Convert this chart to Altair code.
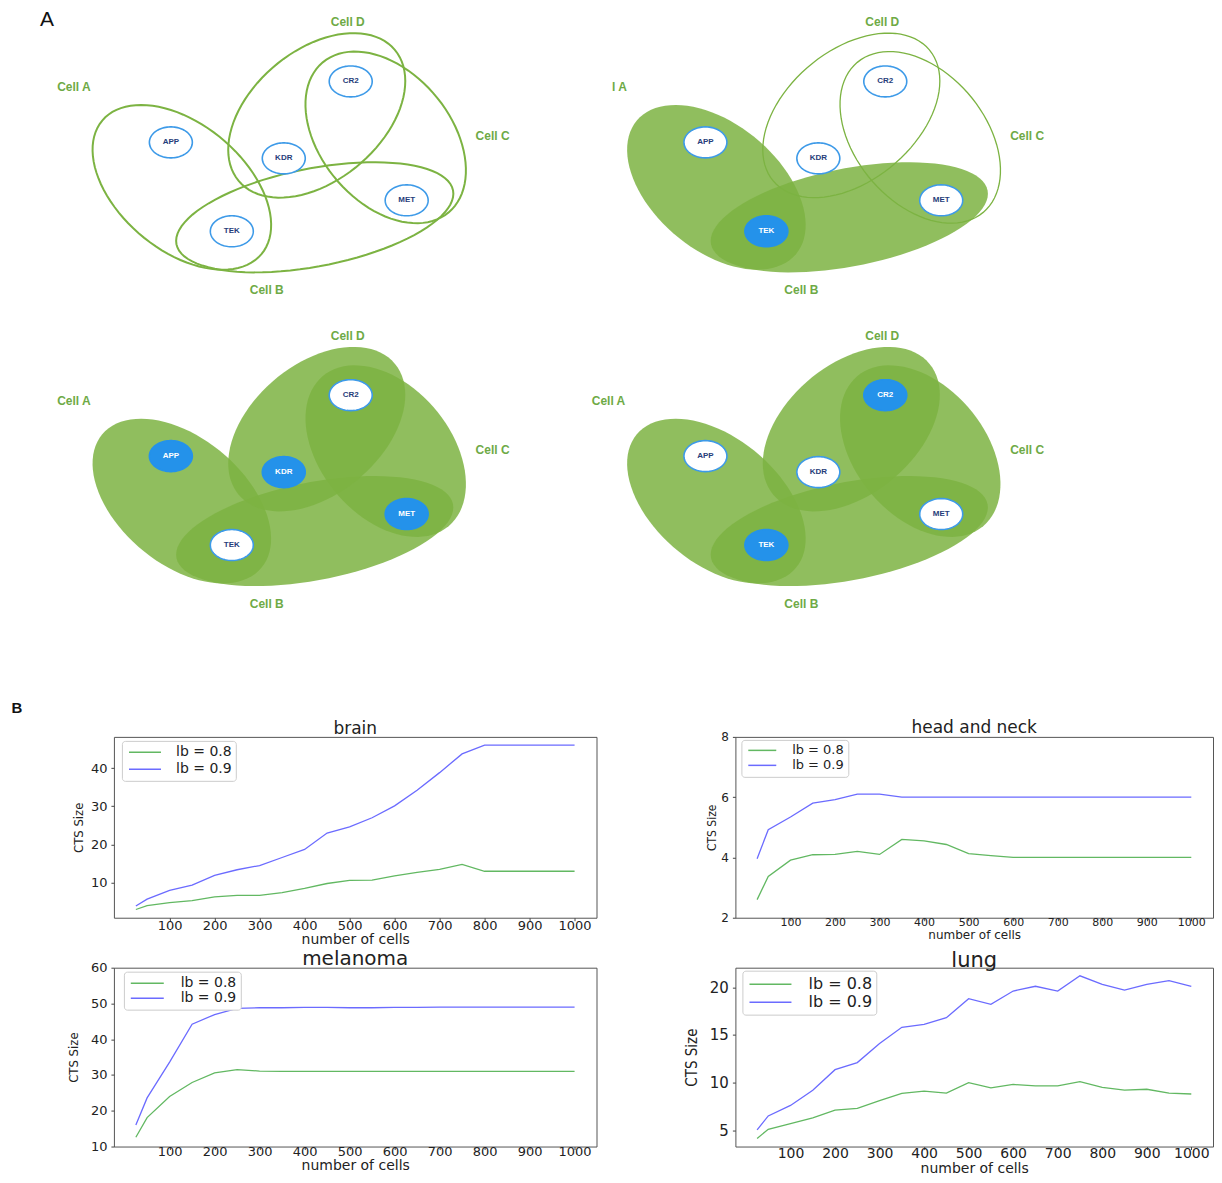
import numpy as np
import pandas as pd
import altair as alt

# ======================= Panel B data =======================
cells = [25, 50, 100, 150, 200, 250, 300, 350, 400, 450, 500,
         550, 600, 650, 700, 750, 800, 850, 900, 950, 1000]
series_names = ["lb = 0.8", "lb = 0.9"]
x_ticks = [100, 200, 300, 400, 500, 600, 700, 800, 900, 1000]

brain_lb08 = [3.0, 4.0, 4.8, 5.3, 6.3, 6.7, 6.7, 7.4, 8.5, 9.8, 10.6,
              10.7, 11.8, 12.7, 13.5, 14.8, 13.0, 13.0, 13.0, 13.0, 13.0]
brain_lb09 = [3.9, 5.7, 8.0, 9.4, 11.9, 13.4, 14.5, 16.6, 18.7, 23.0, 24.6,
              27.0, 30.1, 34.2, 38.8, 43.7, 46.0, 46.0, 46.0, 46.0, 46.0]
brain_yticks = [10, 20, 30, 40]

hn_lb08 = [2.6, 3.37, 3.91, 4.09, 4.1, 4.2, 4.1, 4.6, 4.55, 4.43, 4.13,
           4.06, 4.0, 4.0, 4.0, 4.0, 4.0, 4.0, 4.0, 4.0, 4.0]
hn_lb09 = [3.96, 4.92, 5.34, 5.8, 5.92, 6.1, 6.1, 6.0, 6.0, 6.0, 6.0,
           6.0, 6.0, 6.0, 6.0, 6.0, 6.0, 6.0, 6.0, 6.0, 6.0]
hn_yticks = [2, 4, 6, 8]

mel_lb08 = [12.6, 18.1, 24.0, 27.9, 30.6, 31.5, 31.1, 31.0, 31.0, 31.0, 31.0,
            31.0, 31.0, 31.0, 31.0, 31.0, 31.0, 31.0, 31.0, 31.0, 31.0]
mel_lb09 = [16.0, 23.6, 33.6, 44.2, 46.9, 48.6, 48.8, 48.8, 48.9, 48.9, 48.8,
            48.8, 48.9, 48.9, 49.0, 49.0, 49.0, 49.0, 49.0, 49.0, 49.0]
mel_yticks = [10, 20, 30, 40, 50, 60]

lung_lb08 = [4.14, 5.1, 5.7, 6.3, 7.1, 7.3, 8.1, 8.86, 9.1, 8.9, 10.0,
             9.45, 9.8, 9.65, 9.65, 10.1, 9.5, 9.2, 9.3, 8.9, 8.8]
lung_lb09 = [5.03, 6.5, 7.6, 9.2, 11.35, 12.1, 14.1, 15.8, 16.1, 16.8, 18.8,
             18.2, 19.6, 20.1, 19.6, 21.2, 20.3, 19.7, 20.3, 20.7, 20.1]
lung_yticks = [5, 10, 15, 20]

# ======================= Panel A data =======================
set_names = ["Cell A", "Cell B", "Cell C", "Cell D"]
gene_names = ["APP", "KDR", "CR2", "MET", "TEK"]
panel_filled_sets = [[], ["Cell A", "Cell B"], set_names, set_names]
panel_marked_genes = [[], ["TEK"], ["APP", "KDR", "MET"], ["CR2", "TEK"]]
panel_set_labels = [set_names, ["l A", "Cell B", "Cell C", "Cell D"], set_names, set_names]
panel_letters = ["A", "B"]

# diagram geometry, in diagram units (one diagram repeated in 4 panels)
GEOM = {
    "set_center": {"Cell A": (181, 186), "Cell B": (314, 216), "Cell C": (385, 136), "Cell D": (316, 114)},
    "set_axes": {"Cell A": (104, 63), "Cell B": (141, 49), "Cell C": (98, 65), "Cell D": (102, 65)},
    "set_angle": {"Cell A": 40, "Cell B": -11, "Cell C": 50, "Cell D": -40},
    "set_label": {"Cell A": (73, 86), "Cell B": (266, 289), "Cell C": (492, 135), "Cell D": (347, 21)},
    "cropped_label": (619, 86),
    "gene_center": {"APP": (170, 141), "KDR": (283, 157), "CR2": (350, 80), "MET": (406, 199), "TEK": (231, 230)},
    "gene_axes": (21.5, 15.5),
    "panel_offset": [(0, 0), (535, 0), (0, 314), (535, 314)],
    "letter_pos": [(46, 8), (16, 707)],
    "extent_x": (113, 1209),
    "extent_y": (8, 716),
}

SET_GREEN = "#7cb342"
LABEL_GREEN = "#6eaa46"
GENE_BLUE = "#2492ea"
GENE_STROKE = "#3d9ae8"
GENE_TEXT = "#263d7a"
AFONT = "Liberation Sans"


def ellipse_path(ratio, n=90):
    """Unit ellipse outline (x radius 1, y radius = ratio) as an SVG path."""
    t = np.linspace(0.0, 2 * np.pi, n, endpoint=False)
    pts = ["%.4f,%.4f" % (np.cos(v), ratio * np.sin(v)) for v in t]
    return "M" + "L".join(pts) + "Z"


set_rows, gene_rows, set_txt, gene_txt = [], [], [], []
for p in range(4):
    dx, dy = GEOM["panel_offset"][p]
    for s, lab in zip(set_names, panel_set_labels[p]):
        cx, cy = GEOM["set_center"][s]
        a, b = GEOM["set_axes"][s]
        set_rows.append({"x": cx + dx, "y": cy + dy, "shape": ellipse_path(b / a),
                         "size": (2 * a) ** 2, "ang": GEOM["set_angle"][s] % 360,
                         "filled": s in panel_filled_sets[p], "sw": 2.0 if p == 0 else 1.3})
        if lab == s:
            lx, ly = GEOM["set_label"][s]
            lx += dx
        else:
            lx, ly = GEOM["cropped_label"]
        set_txt.append({"x": lx, "y": ly + dy, "label": lab})
    for g in gene_names:
        gx, gy = GEOM["gene_center"][g]
        rx, ry = GEOM["gene_axes"]
        marked = g in panel_marked_genes[p]
        gene_rows.append({"x": gx + dx, "y": gy + dy, "shape": ellipse_path(ry / rx),
                          "size": (2 * rx) ** 2,
                          "fill": GENE_BLUE if marked else "white",
                          "stroke": GENE_BLUE if marked else GENE_STROKE})
        gene_txt.append({"x": gx + dx, "y": gy + dy, "label": g,
                         "tc": "white" if marked else GENE_TEXT})

set_df = pd.DataFrame(set_rows)
gene_df = pd.DataFrame(gene_rows)
set_txt_df = pd.DataFrame(set_txt)
gene_txt_df = pd.DataFrame(gene_txt)
letters_df = pd.DataFrame({"label": panel_letters,
                           "x": [q[0] for q in GEOM["letter_pos"]],
                           "y": [q[1] for q in GEOM["letter_pos"]]})

ex0, ex1 = GEOM["extent_x"]
ey0, ey1 = GEOM["extent_y"]
XA = alt.X("x:Q", scale=alt.Scale(domain=[ex0, ex1], nice=False, zero=False), axis=None)
YA = alt.Y("y:Q", scale=alt.Scale(domain=[ey0, ey1], nice=False, zero=False, reverse=True), axis=None)

fills = alt.Chart(set_df).transform_filter("datum.filled").mark_point(
    filled=True, color=SET_GREEN, opacity=1, fillOpacity=0.85, strokeWidth=0).encode(
    x=XA, y=YA, shape=alt.Shape("shape:N", scale=None), size=alt.Size("size:Q", scale=None),
    angle=alt.Angle("ang:Q", scale=None))
outlines = alt.Chart(set_df).transform_filter("!datum.filled").mark_point(
    filled=False, color=SET_GREEN, opacity=1).encode(
    x=XA, y=YA, shape=alt.Shape("shape:N", scale=None), size=alt.Size("size:Q", scale=None),
    angle=alt.Angle("ang:Q", scale=None), strokeWidth=alt.StrokeWidth("sw:Q", scale=None))
genes = alt.Chart(gene_df).mark_point(filled=True, opacity=1, strokeWidth=1.6).encode(
    x=XA, y=YA, shape=alt.Shape("shape:N", scale=None), size=alt.Size("size:Q", scale=None),
    fill=alt.Fill("fill:N", scale=None), stroke=alt.Stroke("stroke:N", scale=None))
gene_labels = alt.Chart(gene_txt_df).mark_text(font=AFONT, fontSize=8, fontWeight="bold").encode(
    x=XA, y=YA, text="label:N", color=alt.Color("tc:N", scale=None))
set_labels = alt.Chart(set_txt_df).mark_text(
    font=AFONT, fontSize=12, fontWeight="bold", color=LABEL_GREEN).encode(
    x=XA, y=YA, text="label:N")
letter_A = alt.Chart(letters_df.iloc[[0]]).mark_text(
    font=AFONT, fontSize=21, color="#111", baseline="top").encode(x=XA, y=YA, text="label:N")
letter_B = alt.Chart(letters_df.iloc[[1]]).mark_text(
    font=AFONT, fontSize=15, fontWeight="bold", color="#111").encode(x=XA, y=YA, text="label:N")

panel_a = alt.layer(fills, outlines, genes, gene_labels, set_labels, letter_A, letter_B).properties(
    width=ex1 - ex0, height=ey1 - ey0, view=alt.ViewBackground(stroke="transparent"))

# ======================= Panel B charts =======================
GREEN = "#62b862"
BLUE = "#6b6bff"
FONT = "DejaVu Sans"
NARROW = "DejaVu Sans Condensed, Liberation Sans Narrow, DejaVu Sans"
x_domain = [-23.75, 1048.75]
LINE_SYMBOL = "M-2.5,0L2.5,0"


def line_panel(name, lb08, lb09, ydom, yticks, c):
    n = len(cells)
    df = pd.DataFrame({"cells": cells + cells,
                       "size": lb08 + lb09,
                       "series": [series_names[0]] * n + [series_names[1]] * n})
    r = c["half"] / 2.5
    sym_off = c["half"] - r + 2
    lab_off = 2 + 2 * c["half"] + c["gap"] - 2 * r - sym_off
    return alt.Chart(df).mark_line(strokeWidth=1.3).encode(
        x=alt.X("cells:Q", scale=alt.Scale(domain=x_domain, nice=False, zero=False),
                axis=alt.Axis(values=x_ticks, format="d", title="number of cells", grid=False,
                              domain=False, tickSize=3, tickColor="#444", labelFont=FONT,
                              labelFontSize=c["xfs"], labelColor="#222", labelBaseline="middle",
                              labelPadding=c["xpad"], labelFlush=False, labelOverlap=False,
                              titleFont=FONT, titleFontSize=c["xtfs"], titleFontWeight="normal",
                              titleColor="#222", titleBaseline="middle", titleY=c["xty"])),
        y=alt.Y("size:Q", scale=alt.Scale(domain=ydom, nice=False, zero=False),
                axis=alt.Axis(values=yticks, title="CTS Size", grid=False, domain=False,
                              tickSize=3, tickColor="#444", labelFont=FONT, labelFontSize=c["yfs"],
                              labelColor="#222", labelPadding=4, labelOverlap=False,
                              titleFont=NARROW, titleFontSize=c["ytfs"], titleFontWeight="normal",
                              titleColor="#222", titleX=c["ytx"], titleY=c["h"] / 2,
                              minExtent=c["ext"], maxExtent=c["ext"])),
        color=alt.Color("series:N", scale=alt.Scale(domain=series_names, range=[GREEN, BLUE]),
                        legend=alt.Legend(title=None, orient="none", legendX=c["lgx"], legendY=c["lgy"],
                                          symbolType=LINE_SYMBOL, symbolSize=(2 * r) ** 2,
                                          symbolStrokeWidth=1.5, symbolOffset=sym_off,
                                          labelFont=FONT, labelFontSize=c["lfs"], labelColor="#222",
                                          labelOffset=lab_off, padding=c["lpad"],
                                          rowPadding=c["rowpad"],
                                          strokeColor="#cccccc", fillColor="white", cornerRadius=3)),
    ).properties(
        width=c["w"], height=c["h"],
        title=alt.TitleParams(name, font=FONT, fontSize=c["tfs"], fontWeight="normal", color="#222",
                              offset=c["toff"], frame="group", anchor="middle"),
        view=alt.ViewBackground(stroke="#555", strokeWidth=1),
    )


brain = line_panel("brain", brain_lb08, brain_lb09, [0.85, 48.15], brain_yticks,
                   dict(w=483, h=181, tfs=17, toff=-1, xfs=13, xpad=5, xtfs=14, xty=22,
                        yfs=13, ytfs=13, ytx=-28, ext=105, lgx=8, lgy=4, half=16, gap=14,
                        lfs=14, lpad=4, rowpad=2))
hn = line_panel("head and neck", hn_lb08, hn_lb09, [2, 8], hn_yticks,
                dict(w=478, h=181, tfs=17, toff=-6, xfs=11, xpad=2, xtfs=12, xty=17,
                     yfs=12, ytfs=12, ytx=-17, ext=55, lgx=6, lgy=3, half=14, gap=15,
                     lfs=13, lpad=4, rowpad=1))
mel = line_panel("melanoma", mel_lb08, mel_lb09, [10, 60], mel_yticks,
                 dict(w=483, h=179, tfs=20, toff=-7, xfs=13, xpad=2, xtfs=14, xty=19,
                      yfs=13, ytfs=13, ytx=-33, ext=105, lgx=10, lgy=4, half=16.5, gap=16,
                      lfs=14, lpad=4, rowpad=0))
lung = line_panel("lung", lung_lb08, lung_lb09, [3.29, 22.05], lung_yticks,
                  dict(w=478, h=179, tfs=21, toff=-3, xfs=14, xpad=4, xtfs=14, xty=21.5,
                       yfs=15, ytfs=15, ytx=-36, ext=55, lgx=7, lgy=3, half=21, gap=16,
                       lfs=16, lpad=4, rowpad=0))

row1 = alt.hconcat(brain, hn, spacing=82).resolve_scale(color="independent", x="independent", y="independent")
row2 = alt.hconcat(mel, lung, spacing=82).resolve_scale(color="independent", x="independent", y="independent")
panel_b = alt.concat(row1, row2, columns=1, align="none", spacing=0)

chart = alt.concat(panel_a, panel_b, columns=1, align="none", spacing=0).properties(
    padding=0, background="white"
).configure_view(strokeWidth=1)

chart.save("out.html", embed_options={"renderer": "svg", "actions": False})
